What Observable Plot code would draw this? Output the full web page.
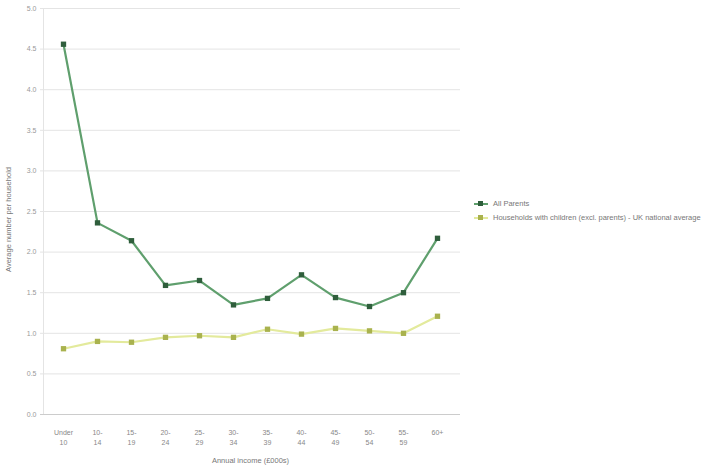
<!DOCTYPE html>
<html>
<head>
<meta charset="utf-8">
<script src="https://cdn.jsdelivr.net/npm/d3@7"></script>
<script src="https://cdn.jsdelivr.net/npm/@observablehq/plot@0.6"></script>
<style>
  html, body { margin: 0; padding: 0; background: #fff; }
  #wrap { position: relative; width: 727px; height: 471px; font-family: "Liberation Sans", Arial, sans-serif; }
  #legend { position: absolute; left: 474px; top: 197px; font-size: 7.5px; color: #777; line-height: 14px; }
  .li { display: flex; align-items: center; white-space: nowrap; }
  .sw { position: relative; width: 14px; height: 8px; margin-right: 5px; }
  .sw .ln { position: absolute; left: 0; right: 0; top: 3px; height: 2px; }
  .sw .mk { position: absolute; left: 4px; top: 1px; width: 5px; height: 5px; }
</style>
</head>
<body>
<div id="wrap">
  <div id="chart"></div>
  <div id="legend"></div>
</div>
<script>
const categories = ["Under\n10", "10-\n14", "15-\n19", "20-\n24", "25-\n29", "30-\n34", "35-\n39", "40-\n44", "45-\n49", "50-\n54", "55-\n59", "60+"];
const seriesNames = ["All Parents", "Households with children (excl. parents) - UK national average"];
const allParents = [4.56, 2.36, 2.14, 1.59, 1.65, 1.35, 1.43, 1.72, 1.44, 1.33, 1.50, 2.17];
const ukAverage = [0.81, 0.90, 0.89, 0.95, 0.97, 0.95, 1.05, 0.99, 1.06, 1.03, 1.00, 1.21];
const yTicks = [0, 0.5, 1, 1.5, 2, 2.5, 3, 3.5, 4, 4.5, 5];
const xTitle = "Annual income (£000s)";
const yTitle = "Average number per household";

const lineColors = ["#5f9f6d", "#e3ea9c"];
const markColors = ["#2f5e3c", "#a9b24e"];

const rows = [];
categories.forEach((c, i) => {
  rows.push({cat: c, value: allParents[i], series: seriesNames[0]});
  rows.push({cat: c, value: ukAverage[i], series: seriesNames[1]});
});

const chart = Plot.plot({
  width: 727,
  height: 471,
  marginLeft: 40,
  marginRight: 267,
  marginTop: 8,
  marginBottom: 57,
  style: {fontFamily: "Liberation Sans, Arial, sans-serif", fontSize: "7px", color: "#888", background: "#fff"},
  x: {type: "point", domain: categories, padding: 0.58, label: null},
  y: {domain: [0, 5], ticks: yTicks, label: null},
  color: {domain: seriesNames, range: lineColors},
  marks: [
    Plot.gridY(yTicks, {stroke: "#e4e4e4", strokeOpacity: 1, strokeWidth: 1}),
    Plot.ruleX([categories[0]], {stroke: "#e4e4e4", dx: -20, strokeWidth: 1}),
    Plot.ruleY([0], {stroke: "#cccccc"}),
    Plot.axisY(yTicks, {tickFormat: d => d.toFixed(1), tickSize: 0, tickPadding: 4, fill: "#999", fontSize: 7, label: null}),
    Plot.axisX({tickSize: 0, tickPadding: 13, fill: "#888", fontSize: 7, lineHeight: 1.5, label: null}),
    Plot.text([xTitle], {frameAnchor: "bottom", dy: 48, fill: "#777", fontSize: 7.5}),
    Plot.text([yTitle], {frameAnchor: "left", dx: -32, dy: 8, rotate: -90, textAnchor: "middle", fill: "#777", fontSize: 7.5}),
    Plot.line(rows, {x: "cat", y: "value", z: "series", stroke: "series", strokeWidth: 2.2}),
    Plot.dot(rows, {x: "cat", y: "value", fill: d => d.series === seriesNames[0] ? markColors[0] : markColors[1], symbol: "square", r: 3})
  ]
});
document.getElementById("chart").appendChild(chart);

const leg = document.getElementById("legend");
seriesNames.forEach((s, i) => {
  const d = document.createElement("div");
  d.className = "li";
  d.innerHTML = `<span class="sw"><span class="ln" style="background:${lineColors[i]}"></span><span class="mk" style="background:${markColors[i]}"></span></span><span>${s}</span>`;
  leg.appendChild(d);
});
</script>
</body>
</html>
